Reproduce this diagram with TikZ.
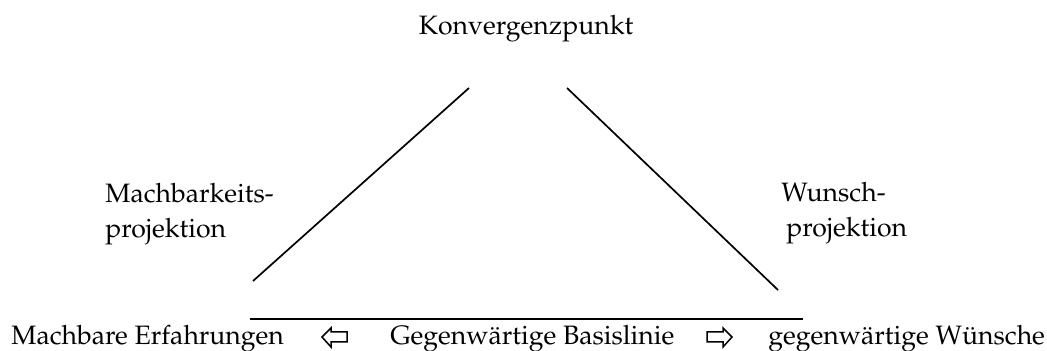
\documentclass[tikz,border=0pt]{standalone}
\usepackage[T1]{fontenc}
\usepackage{mathpazo}
\begin{document}
\begin{tikzpicture}[x=0.5pt,y=-0.5pt,
  lbl/.style={inner sep=0pt,font=\fontsize{13.3}{16}\selectfont},
  rule/.style={line width=0.85pt},
  blockarrow/.style={draw,line width=0.75pt,line join=miter}]
\useasboundingbox (0,0) rectangle (1047,351);
\node[lbl,anchor=base] (top) at (526,35) {Konvergenzpunkt};
\node[lbl,anchor=base west] (ml1) at (105,203) {Machbarkeits-};
\node[lbl,anchor=base west] (ml2) at (105,238) {projektion};
\node[lbl,anchor=base west] (wl1) at (781,202) {Wunsch-};
\node[lbl,anchor=base west] (wl2) at (786,237) {projektion};
\node[lbl,anchor=base west] (b1) at (11,345) {Machbare Erfahrungen};
\node[lbl,anchor=base west] (b2) at (390,345) {Gegenw\"artige Basislinie};
\node[lbl,anchor=base west] (b3) at (768,345) {gegenw\"artige W\"unsche};
\coordinate (l1) at (253,281);
\coordinate (l2) at (469,88);
\coordinate (r1) at (567,88);
\coordinate (r2) at (778,290);
\coordinate (b0) at (250,319);
\coordinate (be) at (803,319);
\draw[rule] (l1) -- (l2);
\draw[rule] (r1) -- (r2);
\draw[rule] (b0) -- (be);
\draw[blockarrow] (322,337) -- (331,328) -- (331,332) -- (347,332) -- (347,342) -- (331,342) -- (331,347) -- cycle;
\draw[blockarrow] (732,337) -- (723,328) -- (723,332) -- (707,332) -- (707,342) -- (723,342) -- (723,347) -- cycle;
\end{tikzpicture}
\end{document}
